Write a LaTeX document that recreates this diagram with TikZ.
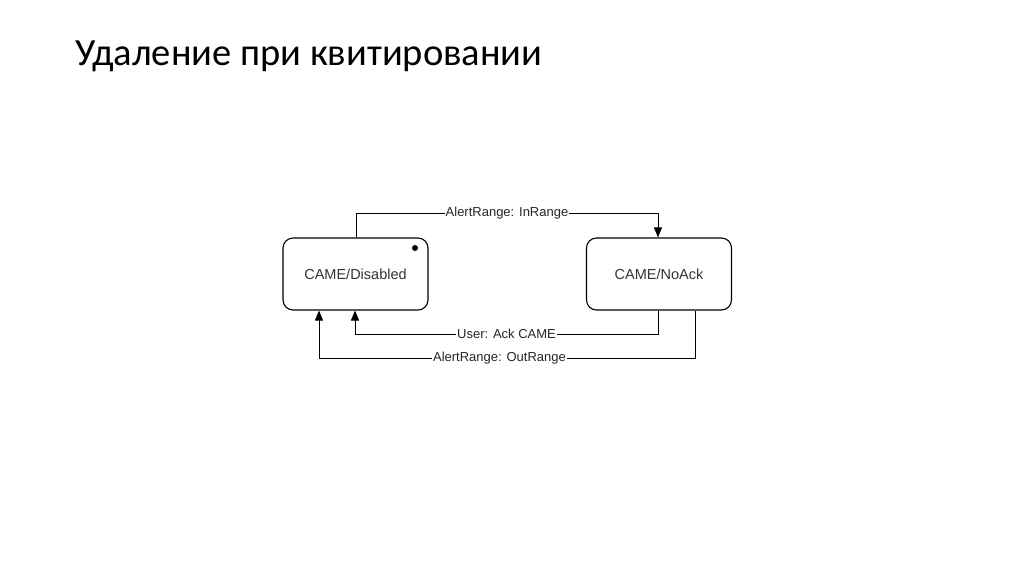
\documentclass[tikz,border=0pt]{standalone}
\usepackage{fontspec}
\setmainfont{Liberation Sans}
\newfontfamily\titlefont{Carlito}
\usetikzlibrary{arrows.meta}
\begin{document}
\begin{tikzpicture}[x=1pt,y=-1pt,
  state/.style={draw, line width=1.1pt, rounded corners=10pt, minimum width=145pt, minimum height=72pt, inner sep=0pt, font=\fontsize{14.5}{16}\selectfont, text=black!80},
  conn/.style={draw, line width=0.8pt, -{Triangle[length=10pt,width=8pt]}},
  lbl/.style={fill=white, inner sep=1pt, font=\fontsize{13}{15}\selectfont, text=black!85}]
\useasboundingbox (0,0) rectangle (1024,574);
\node[anchor=base west, font=\titlefont\fontsize{38.5}{44}\selectfont] (title) at (72,65) {Удаление при квитировании};
\node[state] (dis) at (355.5,274) {CAME/Disabled};
\node[state] (noack) at (659,274) {CAME/NoAck};
\fill (415,248) circle (3pt);
\coordinate (t1) at (356,213);
\coordinate (t2) at (658,213);
\draw[conn] (dis.north -| t1) -- (t1) -- node[lbl] {AlertRange: InRange} (t2) -- (noack.north -| t2);
\coordinate (u1) at (658,334);
\coordinate (u2) at (355,334);
\draw[conn] (noack.south -| u1) -- (u1) -- node[lbl, pos=0.5] {User: Ack CAME} (u2) -- (dis.south -| u2);
\coordinate (o1) at (695,358);
\coordinate (o2) at (319,358);
\draw[conn] (noack.south -| o1) -- (o1) -- node[lbl, pos=0.52] {AlertRange: OutRange} (o2) -- (dis.south -| o2);
\end{tikzpicture}
\end{document}
